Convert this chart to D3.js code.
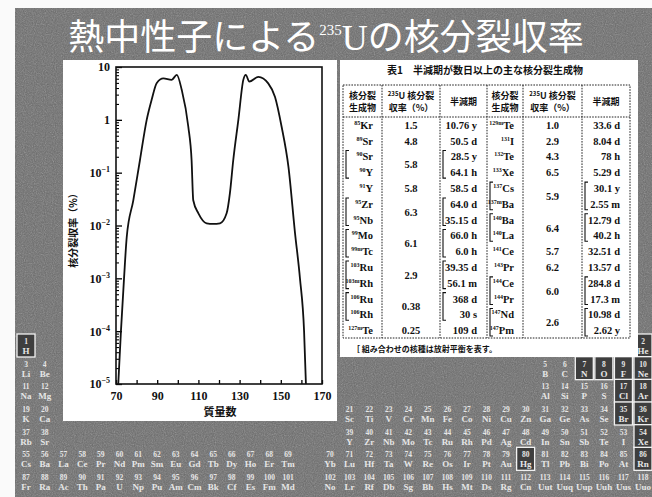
<!DOCTYPE html>
<html lang="ja">
<head>
<meta charset="UTF-8">
<title>熱中性子による235Uの核分裂収率</title>
<script src="https://cdnjs.cloudflare.com/ajax/libs/d3/7.8.5/d3.min.js"></script>
<style>
  body { margin: 0; background: #fff; }
  svg { display: block; }
</style>
</head>
<body>
<script>
// 質量数と核分裂収率(%) : 図から読み取った値
var massNumber = [71.1, 72.4, 73.9, 75.2, 78.4, 81.6, 84.9, 87.3, 89.8, 93.0,
                  97.0, 99.5, 101.9, 105.1, 106.7, 107.5, 110, 114, 117.1, 120.5,
                  123.7, 125.3, 126.9, 129.4, 131.8, 133.0, 134.7, 139.1, 143.9, 147.2,
                  150.4, 153.7, 156.9, 159.3, 161.3, 162.2];
var fissionYield = [1e-5, 1e-4, 1e-3, 0.006, 0.030, 0.17, 1.0, 2.4, 5.0, 6.1,
                    5.7, 7.1, 3.7, 0.74, 0.17, 0.030, 0.017, 0.011, 0.0107, 0.011,
                    0.017, 0.041, 0.17, 1.0, 5.7, 7.1, 5.3, 6.5, 4.9, 2.7,
                    0.74, 0.13, 0.0072, 1e-3, 1e-4, 1e-5];
var xTicks = [70, 80, 90, 100, 110, 120, 130, 140, 150, 160, 170];
var xLabels = [70, 90, 110, 130, 150, 170];
var yTicks = [1e-5, 1e-4, 1e-3, 1e-2, 1e-1, 1, 10];

// 表1
var leftNuclides = ["85Kr", "89Sr", "90Sr", "90Y", "91Y", "95Zr", "95Nb", "99Mo", "99mTc", "103Ru", "103mRh", "106Ru", "106Rh", "127mTe"];
var leftYield = ["1.5", "4.8", "5.8", null, "5.8", "6.3", null, "6.1", null, "2.9", null, "0.38", null, "0.25"];
var leftHalfLife = ["10.76 y", "50.5 d", "28.5 y", "64.1 h", "58.5 d", "64.0 d", "35.15 d", "66.0 h", "6.0 h", "39.35 d", "56.1 m", "368 d", "30 s", "109 d"];
var leftPairs = [2, 5, 7, 9, 11];
var rightNuclides = ["129mTe", "131I", "132Te", "133Xe", "137Cs", "137mBa", "140Ba", "140La", "141Ce", "143Pr", "144Ce", "144Pr", "147Nd", "147Pm"];
var rightYield = ["1.0", "2.9", "4.3", "6.5", "5.9", null, "6.4", null, "5.7", "6.2", "6.0", null, "2.6", null];
var rightHalfLife = ["33.6 d", "8.04 d", "78 h", "5.29 d", "30.1 y", "2.55 m", "12.79 d", "40.2 h", "32.51 d", "13.57 d", "284.8 d", "17.3 m", "10.98 d", "2.62 y"];
var rightPairs = [4, 6, 10, 12];

// 周期表(背景)
var periods = [
  ["H", "He"],
  ["Li", "Be", "B", "C", "N", "O", "F", "Ne"],
  ["Na", "Mg", "Al", "Si", "P", "S", "Cl", "Ar"],
  ["K", "Ca", "Sc", "Ti", "V", "Cr", "Mn", "Fe", "Co", "Ni", "Cu", "Zn", "Ga", "Ge", "As", "Se", "Br", "Kr"],
  ["Rb", "Sr", "Y", "Zr", "Nb", "Mo", "Tc", "Ru", "Rh", "Pd", "Ag", "Cd", "In", "Sn", "Sb", "Te", "I", "Xe"],
  ["Cs", "Ba", "La", "Ce", "Pr", "Nd", "Pm", "Sm", "Eu", "Gd", "Tb", "Dy", "Ho", "Er", "Tm", "Yb", "Lu", "Hf", "Ta", "W", "Re", "Os", "Ir", "Pt", "Au", "Hg", "Tl", "Pb", "Bi", "Po", "At", "Rn"],
  ["Fr", "Ra", "Ac", "Th", "Pa", "U", "Np", "Pu", "Am", "Cm", "Bk", "Cf", "Es", "Fm", "Md", "No", "Lr", "Rf", "Db", "Sg", "Bh", "Hs", "Mt", "Ds", "Rg", "Cn", "Uut", "Uuq", "Uup", "Uuh", "Uus", "Uuo"]
];
var boxed = ["H", "He", "N", "O", "F", "Ne", "Cl", "Ar", "Br", "Kr", "Xe", "Rn", "Hg"];

var W = 652, H = 497;
var jp = "'Noto Sans CJK JP', sans-serif";
var serif = "'Liberation Serif', 'DejaVu Serif', serif";

var svg = d3.select("body").append("svg").attr("width", W).attr("height", H);

// grainy scanned background
var filt = svg.append("defs").append("filter").attr("id", "grain")
  .attr("x", 0).attr("y", 0).attr("width", "100%").attr("height", "100%");
filt.append("feTurbulence").attr("type", "fractalNoise").attr("baseFrequency", 0.9).attr("numOctaves", 2).attr("seed", 7);
filt.append("feColorMatrix").attr("type", "saturate").attr("values", 0);

svg.append("rect").attr("width", W).attr("height", H).attr("fill", "#fafafa");
svg.append("rect").attr("x", 15).attr("y", 8).attr("width", W - 15).attr("height", H - 8).attr("fill", "#6a6a6a");
svg.append("rect").attr("x", 15).attr("y", 8).attr("width", W - 15).attr("height", H - 8)
  .attr("filter", "url(#grain)").attr("opacity", 0.45);

// title
var title = svg.append("text").attr("x", 326).attr("y", 50).attr("text-anchor", "middle")
  .attr("fill", "#fff").style("font-family", jp).style("font-size", "36px");
title.append("tspan").text("熱中性子による");
title.append("tspan").attr("dy", -15).style("font-family", serif).style("font-size", "15px").text("235");
title.append("tspan").attr("dy", 15).style("font-family", serif).text("U");
title.append("tspan").text("の核分裂収率");

// ---- periodic table in the background ----
var colX = d3.scaleLinear().domain([1, 15, 16, 32]).range([26, 288, 330, 643]);
var rowY = d3.scaleLinear().domain([1, 7]).range([344, 480]);
var elements = [], z = 0;
periods.forEach(function(p, i) {
  p.forEach(function(s, j) {
    z += 1;
    var col;
    if (p.length === 32) col = j + 1;
    else if (j < 2 && !(p.length === 2 && j === 1)) col = j + 1;
    else col = 32 - (p.length - 1 - j);
    elements.push({ z: z, sym: s, period: i + 1, col: col });
  });
});
var elG = svg.append("g").selectAll("g").data(elements).enter().append("g")
  .attr("transform", function(d) { return "translate(" + colX(d.col) + "," + rowY(d.period) + ")"; });
elG.filter(function(d) { return boxed.indexOf(d.sym) >= 0; }).append("rect")
  .attr("x", -9).attr("y", -10).attr("width", 18).attr("height", 23)
  .attr("fill", "#3e3e3e").attr("stroke", "#f2f2f2").attr("stroke-width", 1.3);
elG.append("text").attr("text-anchor", "middle").attr("fill", "#e6e6e6")
  .style("font-family", serif).style("font-weight", "bold").style("font-size", "7.5px")
  .text(function(d) { return d.z; });
elG.append("text").attr("text-anchor", "middle").attr("y", 10).attr("fill", "#e6e6e6")
  .style("font-family", serif).style("font-weight", "bold").style("font-size", "9px")
  .text(function(d) { return d.sym; });

// ---- chart panel ----
svg.append("rect").attr("x", 63).attr("y", 60).attr("width", 274).attr("height", 361).attr("fill", "#fff");

var x = d3.scaleLinear().domain([70, 170]).range([116, 322]);
var y = d3.scaleLog().domain([1e-5, 10]).range([384, 67]);

var minorY = [];
yTicks.slice(0, -1).forEach(function(v) { for (var k = 2; k <= 9; k++) minorY.push(v * k); });

svg.append("g").attr("transform", "translate(116,0)")
  .call(d3.axisLeft(y).tickValues(minorY).tickSizeInner(-3).tickSizeOuter(0).tickFormat(""))
  .call(function(g) { g.select(".domain").remove(); g.selectAll("line").attr("stroke-width", 1.1); });

var yAxisG = svg.append("g").attr("transform", "translate(116,0)")
  .call(d3.axisLeft(y).tickValues(yTicks).tickSizeInner(-6).tickSizeOuter(0).tickPadding(6))
  .call(function(g) { g.select(".domain").remove(); g.selectAll("line").attr("stroke-width", 1.3); });
yAxisG.selectAll(".tick text")
  .style("font-family", serif).style("font-weight", "bold").style("font-size", "12px").attr("fill", "#111")
  .each(function(d) {
    var e = Math.round(Math.log10(d)), t = d3.select(this).text("");
    if (e === 0) t.text("1");
    else if (e === 1) t.text("10");
    else {
      t.append("tspan").text("10");
      t.append("tspan").attr("dy", -5).style("font-size", "8px").text("\u2212" + (-e));
    }
  });

var xAxisG = svg.append("g").attr("transform", "translate(0,384)")
  .call(d3.axisBottom(x).tickValues(xTicks).tickSizeInner(-4).tickSizeOuter(0).tickPadding(7)
    .tickFormat(function(d) { return xLabels.indexOf(d) >= 0 ? d : ""; }))
  .call(function(g) { g.select(".domain").remove(); g.selectAll("line").attr("stroke-width", 1.3); });
xAxisG.selectAll(".tick text").style("font-family", serif).style("font-weight", "bold")
  .style("font-size", "12px").attr("fill", "#111");

// frame
svg.append("rect").attr("x", x(70)).attr("y", y(10)).attr("width", x(170) - x(70)).attr("height", y(1e-5) - y(10))
  .attr("fill", "none").attr("stroke", "#111").attr("stroke-width", 1.6);

// yield curve
var pts = massNumber.map(function(m, i) { return [m, fissionYield[i]]; });
svg.append("path").datum(pts)
  .attr("fill", "none").attr("stroke", "#111").attr("stroke-width", 1.8)
  .attr("d", d3.line().curve(d3.curveMonotoneX)
    .x(function(d) { return x(d[0]); }).y(function(d) { return y(d[1]); }));

svg.append("text").attr("transform", "translate(77,228) rotate(-90)").attr("text-anchor", "middle")
  .style("font-family", jp).style("font-weight", "bold").style("font-size", "10px").attr("fill", "#111")
  .text("核分裂収率（%）");
svg.append("text").attr("x", 220).attr("y", 416).attr("text-anchor", "middle")
  .style("font-family", jp).style("font-weight", "bold").style("font-size", "11px").attr("fill", "#111")
  .text("質量数");

// ---- table panel ----
svg.append("rect").attr("x", 340).attr("y", 60).attr("width", 298).attr("height", 297).attr("fill", "#fff");
svg.append("text").attr("x", 485).attr("y", 74).attr("text-anchor", "middle")
  .style("font-family", jp).style("font-weight", "bold").style("font-size", "10px").attr("fill", "#111")
  .text("表1　半減期が数日以上の主な核分裂生成物");

var tblCols = [343, 382, 440, 487, 523, 582, 630];
var tblTop = 85, tblHead = 117, tblBottom = 338;
var rowBand = d3.scaleBand().domain(d3.range(14)).range([tblHead, tblBottom]);
var bw = rowBand.bandwidth();
var dash = "1.6,1.2";

var tg = svg.append("g").attr("stroke", "#222").attr("stroke-width", 1).attr("stroke-dasharray", dash).attr("fill", "none");
tg.append("rect").attr("x", tblCols[0]).attr("y", tblTop).attr("width", tblCols[6] - tblCols[0]).attr("height", tblBottom - tblTop);
tg.append("line").attr("x1", tblCols[0]).attr("x2", tblCols[6]).attr("y1", tblHead).attr("y2", tblHead);
tblCols.slice(1, -1).forEach(function(c) {
  tg.append("line").attr("x1", c).attr("x2", c).attr("y1", tblTop).attr("y2", tblBottom);
});

function headers(c0, c1, c2, c3) {
  var hs = svg.append("g").style("font-family", jp).style("font-weight", "bold").style("font-size", "9px")
    .attr("fill", "#111").attr("text-anchor", "middle");
  var cx = (c0 + c1) / 2;
  hs.append("text").attr("x", cx).attr("y", 99).text("核分裂");
  hs.append("text").attr("x", cx).attr("y", 111).text("生成物");
  cx = (c1 + c2) / 2;
  var t = hs.append("text").attr("x", cx).attr("y", 99);
  t.append("tspan").style("font-size", "6px").attr("dy", -3).text("235");
  t.append("tspan").attr("dy", 3).text("U 核分裂");
  hs.append("text").attr("x", cx).attr("y", 111).text("収率（%）");
  hs.append("text").attr("x", (c2 + c3) / 2).attr("y", 105).text("半減期");
}
headers(tblCols[0], tblCols[1], tblCols[2], tblCols[3]);
headers(tblCols[3], tblCols[4], tblCols[5], tblCols[6]);

function bracket(g, bx, i) {
  var y1 = rowBand(i) + 2, y2 = rowBand(i + 1) + bw - 2;
  g.append("path").attr("d", "M" + (bx + 3) + "," + y1 + "H" + bx + "V" + y2 + "H" + (bx + 3))
    .attr("fill", "none").attr("stroke", "#111").attr("stroke-width", 1.1);
}

function half(nuclides, yields, halfLives, pairs, c0, c1, c2, c3) {
  var g = svg.append("g").style("font-family", serif).style("font-weight", "bold").attr("fill", "#111");
  nuclides.forEach(function(n, i) {
    var m = n.match(/^(\d+m?)([A-Z][a-z]?)$/);
    var t = g.append("text").attr("x", c1 - 9).attr("y", rowBand(i) + bw / 2 + 4)
      .attr("text-anchor", "end").style("font-size", "10.5px");
    t.append("tspan").attr("dy", -4).style("font-size", "6px").text(m[1]);
    t.append("tspan").attr("dy", 4).text(m[2]);
  });
  yields.forEach(function(v, i) {
    if (v === null) return;
    var cy = pairs.indexOf(i) >= 0 ? rowBand(i) + bw : rowBand(i) + bw / 2;
    g.append("text").attr("x", (c1 + c2) / 2).attr("y", cy + 4).attr("text-anchor", "middle")
      .style("font-size", "10.5px").text(v);
  });
  halfLives.forEach(function(h, i) {
    g.append("text").attr("x", c3 - 10).attr("y", rowBand(i) + bw / 2 + 4).attr("text-anchor", "end")
      .style("font-size", "10.5px").text(h);
  });
  pairs.forEach(function(i) {
    bracket(g, c0 + 3, i);
    bracket(g, c2 + 3, i);
  });
}
half(leftNuclides, leftYield, leftHalfLife, leftPairs, tblCols[0], tblCols[1], tblCols[2], tblCols[3]);
half(rightNuclides, rightYield, rightHalfLife, rightPairs, tblCols[3], tblCols[4], tblCols[5], tblCols[6]);

svg.append("text").attr("x", 352).attr("y", 352)
  .style("font-family", jp).style("font-weight", "bold").style("font-size", "8px").attr("fill", "#111")
  .text("［ 組み合わせの核種は放射平衡を表す。");
</script>
</body>
</html>
